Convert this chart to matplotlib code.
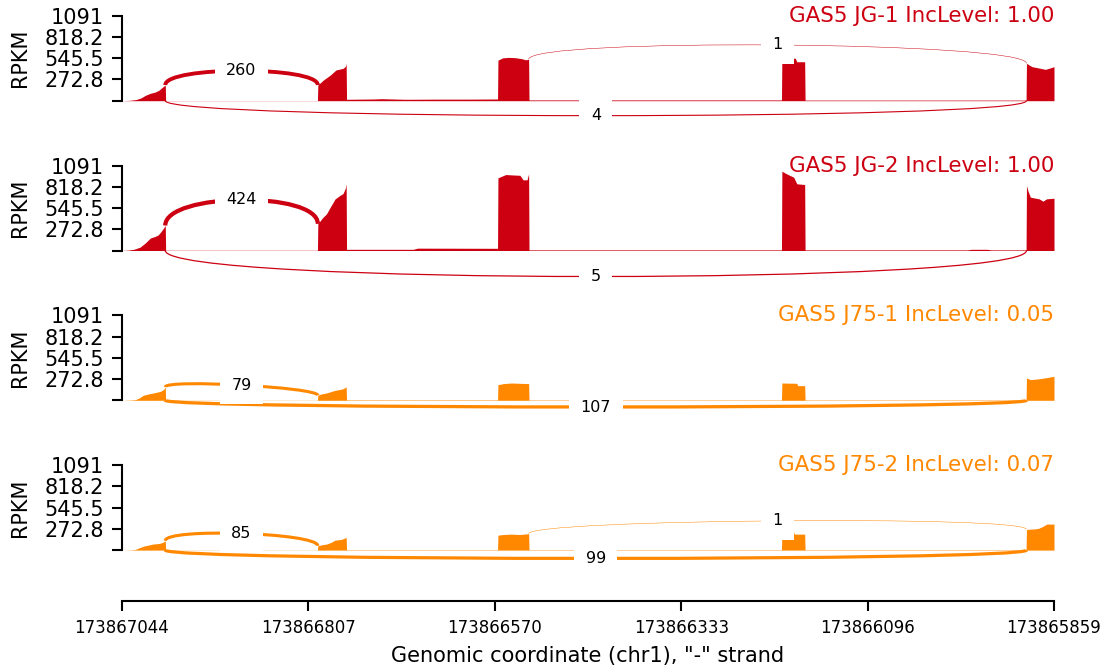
import numpy as np
import matplotlib
matplotlib.use("Agg")
import matplotlib.pyplot as plt
from matplotlib.path import Path
from matplotlib.patches import PathPatch

# ---------------- data ----------------
region_start = 173867044          # left end of the plotted region (minus strand)
region_end = 173865859            # right end
region_len = region_start - region_end
tick_step = 237

ymax = 1091
ytick_vals = [0, 272.8, 545.5, 818.2, 1091]
ytick_labels = ["", "272.8", "545.5", "818.2", "1091"]

sample_names = ["GAS5 JG-1", "GAS5 JG-2", "GAS5 J75-1", "GAS5 J75-2"]
inc_levels = [1.00, 1.00, 0.05, 0.07]
sample_colors = ["#CC0011", "#CC0011", "#FF8800", "#FF8800"]

# coverage (RPKM) break points, positions are bp offsets from region_start
cov_pos_jg1 = [0, 10, 18, 24, 30, 36, 42, 47, 51, 55,
               55.5, 248.5,
               249, 256, 265, 272, 281, 284, 285,
               285.5, 320, 330, 360, 400, 440, 477.5,
               478, 484, 492, 500, 508, 513, 517,
               517.5, 838.5,
               839, 856, 858, 868,
               868.5, 1149.5,
               1150, 1157, 1168, 1174, 1180, 1185]
cov_val_jg1 = [0, 5, 15, 35, 70, 95, 110, 135, 170, 201,
               2, 2,
               201, 265, 330, 394, 415, 440, 479,
               18, 22, 26, 18, 20, 20, 22,
               520, 550, 556, 552, 540, 525, 530,
               10, 10,
               545, 545, 500, 500,
               8, 8,
               479, 437, 415, 402, 420, 437]

cov_pos_jg2 = [0, 8, 15, 23, 30, 36, 42, 46, 49, 53, 55,
               55.5, 248.5,
               249, 255, 260, 265, 271, 277, 281, 284, 285,
               285.5, 370, 376, 477.5,
               478, 482, 488, 496, 506, 510, 515, 517,
               517.5, 838.5,
               839, 845, 854, 858, 868,
               868.5, 1075, 1080, 1100, 1105, 1149.5,
               1150, 1152, 1155, 1166, 1171, 1175.5, 1185]
cov_val_jg2 = [0, 5, 15, 43, 100, 160, 180, 200, 235, 290, 321,
               3, 3,
               342, 420, 470, 560, 663, 706, 730, 800, 856,
               15, 15, 30, 28,
               933, 950, 975, 970, 965, 907, 907, 984,
               8, 8,
               1018, 984, 941, 856, 847,
               8, 8, 15, 15, 8, 8,
               834, 760, 684, 663, 633, 663, 671]

cov_pos_j75_1 = [0, 12, 17, 22, 27, 35, 40, 49, 53, 55,
                 55.5, 248.5,
                 249, 253, 260, 271, 280, 285,
                 285.5, 477.5,
                 478, 485, 495, 505, 517,
                 517.5, 838.5,
                 839, 858, 859, 868,
                 868.5, 1149.5,
                 1150, 1155, 1165, 1175, 1185]
cov_val_j75_1 = [0, 5, 9, 30, 64, 85, 94, 115, 140, 171,
                 2, 2,
                 64, 80, 94, 128, 145, 171,
                 6, 6,
                 201, 214, 222, 218, 214,
                 5, 5,
                 222, 218, 188, 188,
                 5, 5,
                 287, 265, 275, 290, 308]

cov_pos_j75_2 = [0, 12, 17, 23, 29, 34, 39, 48, 53, 55,
                 55.5, 248.5,
                 249, 255, 260, 266, 271, 279, 285,
                 285.5, 477.5,
                 478, 485, 495, 505, 517,
                 517.5, 838.5,
                 839, 854, 855, 868,
                 868.5, 1149.5,
                 1150, 1160, 1165, 1170, 1176, 1185]
cov_val_j75_2 = [0, 3, 9, 34, 55, 65, 77, 86, 105, 120,
                 2, 2,
                 55, 70, 77, 100, 128, 137, 163,
                 5, 5,
                 192, 200, 205, 200, 210,
                 5, 5,
                 230, 230, 205, 205,
                 5, 5,
                 265, 272, 278, 300, 334, 334]

cov_pos = [cov_pos_jg1, cov_pos_jg2, cov_pos_j75_1, cov_pos_j75_2]
cov_val = [cov_val_jg1, cov_val_jg2, cov_val_j75_1, cov_val_j75_2]

# junctions: start / end offsets (shared), read counts and label heights per sample
jxn_start = [55, 517, 55]
jxn_end = [249, 1150, 1150]
jxn_below = [False, False, True]
jxn_counts = [[260, 1, 4], [424, 0, 5], [79, 0, 107], [85, 1, 99]]
jxn_apex = [[385, 715, -192], [650, 0, -334], [195, 0, -86], [214, 376, -107]]

# ---------------- plot ----------------
W, H = 1104, 669
fig = plt.figure(figsize=(W / 100, H / 100), dpi=100)

ymin = -655
ax_left_px, ax_right_px = 122, 1054
zero_px0, panel_step = 100.7, 149.8
px_per_unit = 85.0 / ymax
ax_h_px = (ymax - ymin) * px_per_unit

axes = []
for i in range(4):
    bottom_px = zero_px0 + panel_step * i + (-ymin) * px_per_unit
    ax = fig.add_axes([ax_left_px / W, (H - bottom_px) / H,
                       (ax_right_px - ax_left_px) / W, ax_h_px / H])
    axes.append(ax)

for i, ax in enumerate(axes):
    c = sample_colors[i]
    pos = np.asarray(cov_pos[i], float)
    val = np.asarray(cov_val[i], float)
    ax.fill_between(pos, val, 0, color=c, lw=0, zorder=1)

    for j in range(len(jxn_start)):
        n = jxn_counts[i][j]
        if n <= 0:
            continue
        s, e = jxn_start[j], jxn_end[j]
        apex = jxn_apex[i][j]
        if jxn_below[j]:
            h = -apex / 0.75
            pts = [(s, 0), (s, -h), (e, -h), (e, 0)]
        else:
            l = np.interp(s, pos, val)
            r = np.interp(e, pos, val)
            h = (apex - (l + r) / 2) / 0.75
            pts = [(s, l), (s, l + h), (e, r + h), (e, r)]
        path = Path(pts, [Path.MOVETO, Path.CURVE4, Path.CURVE4, Path.CURVE4])
        ax.add_patch(PathPatch(path, ec=c, fc="none",
                               lw=np.log(n + 1) / 2.0, zorder=2))
        ax.text((s + e) / 2, apex, str(n), fontsize=11.5, ha="center",
                va="center", zorder=5,
                bbox=dict(boxstyle="square,pad=0.72", fc="white", ec="none"))

    ax.text(region_len, ymax, f"{sample_names[i]} IncLevel: {inc_levels[i]:.2f}",
            ha="right", va="center", fontsize=15.4, color=c, zorder=6)

    ax.set_xlim(0, region_len)
    ax.set_ylim(ymin, ymax)
    for sp in ["top", "right"]:
        ax.spines[sp].set_visible(False)
    ax.spines["left"].set_bounds(0, ymax)
    ax.spines["left"].set_linewidth(1.5)
    ax.set_yticks(ytick_vals)
    ax.set_yticklabels(ytick_labels)
    ax.tick_params(axis="y", length=7, width=1.5, labelsize=15, pad=6)
    ax.set_ylabel("RPKM", fontsize=15)
    ax.yaxis.set_label_coords(-0.099, (0 - ymin + ymax / 2) / (ymax - ymin))
    if i < 3:
        ax.spines["bottom"].set_visible(False)
        ax.set_xticks([])
    else:
        ax.spines["bottom"].set_linewidth(1.5)
        xt = np.arange(0, region_len + 1, tick_step)
        ax.set_xticks(xt)
        ax.set_xticklabels([str(region_start - int(t)) for t in xt])
        ax.tick_params(axis="x", length=7, width=1.5, labelsize=12, pad=6)
        ax.set_xlabel('Genomic coordinate (chr1), "-" strand', fontsize=15,
                      labelpad=6)
    ax.patch.set_visible(False)

fig.savefig("out.png", dpi=100)
